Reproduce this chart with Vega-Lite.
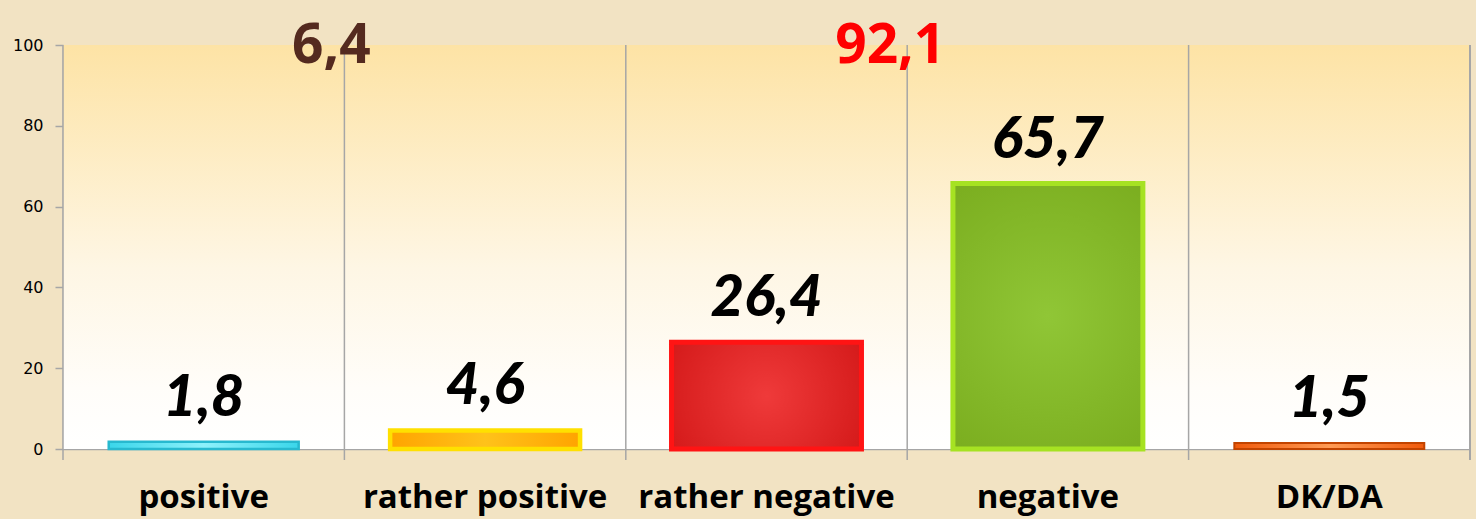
{
  "$schema": "https://vega.github.io/schema/vega-lite/v6.json",
  "autosize": {"type": "none"},
  "width": 1407,
  "height": 404,
  "padding": {"left": 63, "top": 45, "right": 6, "bottom": 70},
  "background": "#f2e3c3",
  "config": {"view": {"stroke": null}},
  "datasets": {
    "answers": [
      {"cat": "positive", "value": 1.8, "label": "1,8"},
      {"cat": "rather positive", "value": 4.6, "label": "4,6"},
      {"cat": "rather negative", "value": 26.4, "label": "26,4"},
      {"cat": "negative", "value": 65.7, "label": "65,7"},
      {"cat": "DK/DA", "value": 1.5, "label": "1,5"}
    ],
    "totals": [
      {"cat": "positive", "group": "positive", "label": "6,4"},
      {"cat": "rather negative", "group": "negative", "label": "92,1"}
    ]
  },
  "data": {"name": "answers"},
  "encoding": {
    "x": {
      "field": "cat", "type": "nominal", "sort": null,
      "scale": {"paddingInner": 0, "paddingOuter": 0},
      "axis": {
        "title": null, "labelAngle": 0, "ticks": false, "tickSize": 0, "grid": false,
        "domainColor": "#a6a6a6", "domainWidth": 1.5, "labelLimit": 0,
        "labelFont": "Open Sans", "labelFontWeight": "bold", "labelFontSize": 33,
        "labelColor": "#000000", "labelBaseline": "alphabetic", "labelPadding": 58
      }
    }
  },
  "layer": [
    {
      "mark": {
        "type": "rect",
        "color": {
          "gradient": "linear", "x1": 0, "y1": 0, "x2": 0, "y2": 1,
          "stops": [
            {"offset": 0, "color": "#fde3a5"},
            {"offset": 0.55, "color": "#fef6e4"},
            {"offset": 0.85, "color": "#fffdf9"},
            {"offset": 1, "color": "#ffffff"}
          ]
        }
      },
      "encoding": {
        "x": null,
        "y": {
          "datum": 100, "type": "quantitative",
          "scale": {"domain": [0, 100], "nice": false},
          "axis": {
            "title": null, "values": [0, 20, 40, 60, 80, 100], "grid": false,
            "domainColor": "#a6a6a6", "domainWidth": 1.5,
            "tickColor": "#a6a6a6", "tickSize": 8, "tickWidth": 1.5,
            "labelPadding": 12, "labelFont": "DejaVu Sans", "labelFontSize": 16,
            "labelColor": "#000000"
          }
        },
        "y2": {"datum": 0}
      }
    },
    {
      "mark": {"type": "rule", "color": "#a6a6a6", "strokeWidth": 1.5, "clip": false},
      "encoding": {
        "x": {"field": "cat", "type": "nominal", "sort": null, "bandPosition": 0},
        "y": {"datum": -2.7, "type": "quantitative"},
        "y2": {"datum": 100}
      }
    },
    {
      "mark": {"type": "rule", "color": "#a6a6a6", "strokeWidth": 1.5, "clip": false},
      "encoding": {
        "x": {"datum": "DK/DA", "type": "nominal", "bandPosition": 1},
        "y": {"datum": -2.7, "type": "quantitative"},
        "y2": {"datum": 100}
      }
    },
    {
      "transform": [{"filter": "datum.cat === 'positive'"}],
      "mark": {
        "type": "bar", "width": {"band": 0.675}, "strokeWidth": 2.5, "stroke": "#27b9cf",
        "color": {
          "gradient": "linear", "x1": 0, "y1": 0, "x2": 1, "y2": 0,
          "stops": [
            {"offset": 0, "color": "#3ad6ea"},
            {"offset": 0.5, "color": "#8ef1fb"},
            {"offset": 1, "color": "#3ad6ea"}
          ]
        }
      },
      "encoding": {"y": {"field": "value", "type": "quantitative"}}
    },
    {
      "transform": [{"filter": "datum.cat === 'rather positive'"}],
      "mark": {
        "type": "bar", "width": {"band": 0.675}, "strokeWidth": 4.5, "stroke": "#ffe000",
        "color": {
          "gradient": "linear", "x1": 0, "y1": 0, "x2": 1, "y2": 0,
          "stops": [
            {"offset": 0, "color": "#ffa400"},
            {"offset": 0.5, "color": "#ffc21a"},
            {"offset": 1, "color": "#ffa400"}
          ]
        }
      },
      "encoding": {"y": {"field": "value", "type": "quantitative"}}
    },
    {
      "transform": [{"filter": "datum.cat === 'rather negative'"}],
      "mark": {
        "type": "bar", "width": {"band": 0.675}, "strokeWidth": 5, "stroke": "#ff1414",
        "color": {
          "gradient": "radial", "x1": 0.5, "y1": 0.5, "r1": 0, "x2": 0.5, "y2": 0.5, "r2": 0.75,
          "stops": [
            {"offset": 0, "color": "#ef3a3a"},
            {"offset": 1, "color": "#cc1010"}
          ]
        }
      },
      "encoding": {"y": {"field": "value", "type": "quantitative"}}
    },
    {
      "transform": [{"filter": "datum.cat === 'negative'"}],
      "mark": {
        "type": "bar", "width": {"band": 0.675}, "strokeWidth": 5, "stroke": "#a6e222",
        "color": {
          "gradient": "radial", "x1": 0.5, "y1": 0.5, "r1": 0, "x2": 0.5, "y2": 0.5, "r2": 0.75,
          "stops": [
            {"offset": 0, "color": "#90c636"},
            {"offset": 1, "color": "#76a81a"}
          ]
        }
      },
      "encoding": {"y": {"field": "value", "type": "quantitative"}}
    },
    {
      "transform": [{"filter": "datum.cat === 'DK/DA'"}],
      "mark": {
        "type": "bar", "width": {"band": 0.675}, "strokeWidth": 2, "stroke": "#c24400",
        "color": {
          "gradient": "linear", "x1": 0, "y1": 0, "x2": 1, "y2": 0,
          "stops": [
            {"offset": 0, "color": "#f05a0c"},
            {"offset": 0.5, "color": "#ff9b55"},
            {"offset": 1, "color": "#f05a0c"}
          ]
        }
      },
      "encoding": {"y": {"field": "value", "type": "quantitative"}}
    },
    {
      "mark": {
        "type": "text", "baseline": "alphabetic", "dy": -26,
        "font": "Lato", "fontStyle": "italic", "fontWeight": 900, "fontSize": 58,
        "color": "#000000"
      },
      "encoding": {
        "y": {"field": "value", "type": "quantitative"},
        "text": {"field": "label"}
      }
    },
    {
      "data": {"name": "totals"},
      "transform": [{"filter": "datum.group === 'positive'"}],
      "mark": {
        "type": "text", "baseline": "alphabetic", "dx": -13,
        "font": "Open Sans", "fontWeight": "bold", "fontSize": 55,
        "color": "#542a1f", "clip": false
      },
      "encoding": {
        "x": {"field": "cat", "type": "nominal", "bandPosition": 1},
        "y": {"datum": 95.5, "type": "quantitative"},
        "text": {"field": "label"}
      }
    },
    {
      "data": {"name": "totals"},
      "transform": [{"filter": "datum.group === 'negative'"}],
      "mark": {
        "type": "text", "baseline": "alphabetic", "dx": -17,
        "font": "Open Sans", "fontWeight": "bold", "fontSize": 55,
        "color": "#ff0000", "clip": false
      },
      "encoding": {
        "x": {"field": "cat", "type": "nominal", "bandPosition": 1},
        "y": {"datum": 95.5, "type": "quantitative"},
        "text": {"field": "label"}
      }
    }
  ]
}
